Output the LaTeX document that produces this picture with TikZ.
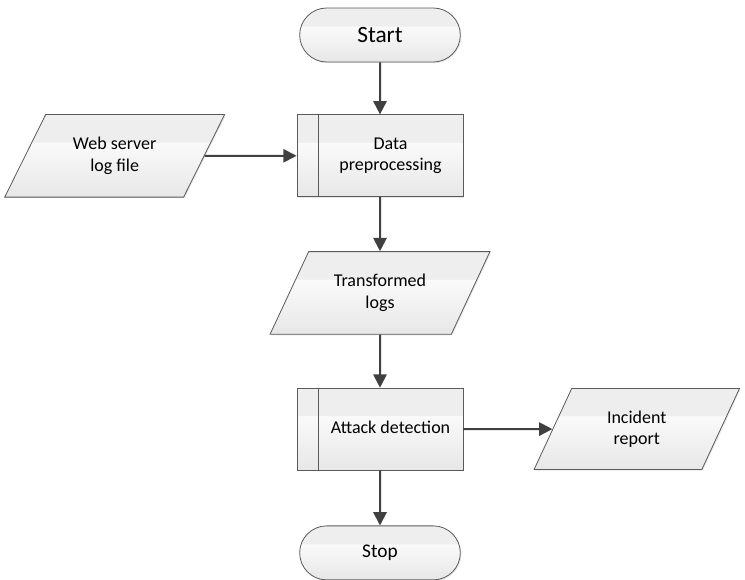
\documentclass[tikz,border=0pt]{standalone}
\usepackage{fontspec}
\setmainfont{Carlito}
\usetikzlibrary{arrows.meta, positioning, shapes.geometric, shapes.misc, shadows}

\definecolor{vband}{HTML}{EEEEEE}
\definecolor{vbot}{HTML}{E7E7E7}
\definecolor{vtop}{HTML}{FAFAFA}
\definecolor{edge}{HTML}{5A5A5A}
\definecolor{wire}{HTML}{404040}
% glossy fill: light band on top, white fading to grey below
\pgfdeclareverticalshading{glossy}{100bp}{color(0bp)=(vbot); color(25bp)=(vbot);
  color(58bp)=(vtop); color(58.5bp)=(vband); color(75bp)=(vband); color(100bp)=(vband)}

\newcommand{\proctext}[1]{\hspace*{15.75pt}\begin{tabular}{@{}c@{}}#1\end{tabular}}

\tikzset{
  base/.style={draw=edge, line width=0.6pt, shading=glossy, align=center,
               font=\fontsize{13.5}{16}\selectfont, text=black, inner sep=2pt,
               drop shadow={shadow xshift=0.8pt, shadow yshift=-0.8pt, fill=black!18}},
  term/.style={base, rounded rectangle, minimum width=124.5pt, minimum height=40.5pt},
  proc/.style={base, rectangle, minimum width=124.5pt, minimum height=61.5pt,
               path picture={\draw[edge, line width=0.6pt]
                 ([xshift=15.75pt]path picture bounding box.north west) --
                 ([xshift=15.75pt]path picture bounding box.south west);}},
  io/.style={base, trapezium, trapezium left angle=58, trapezium right angle=122,
             trapezium stretches=true, minimum width=165pt, minimum height=62pt},
  arr/.style={-{Triangle[length=10pt, width=10pt]}, line width=1.5pt, draw=wire},
}

\begin{document}
\begin{tikzpicture}
\useasboundingbox (0,0) rectangle (558.75pt,-434.25pt);

\node[term, font=\fontsize{17.5}{20}\selectfont] (start) at (285pt,-26.25pt) {Start};
\node[proc, below=39pt of start] (prep) {\proctext{Data\\preprocessing}};
\node[io, left=69pt of prep] (weblog) {Web server\\log file};
\node[io, below=40.5pt of prep] (logs) {Transformed\\logs};
\node[proc, below=39.75pt of logs] (detect) {\proctext{Attack detection}};
\node[io, right=66.75pt of detect, trapezium left angle=66, trapezium right angle=114,
      minimum width=154.5pt, minimum height=60.75pt] (report) {Incident\\report};
\node[term, below=41.25pt of detect, font=\fontsize{14.5}{17}\selectfont] (stop) {Stop};

\draw[arr] (start) -- (prep);
\draw[arr] (weblog) -- (prep);
\draw[arr] (prep) -- (logs);
\draw[arr] (logs) -- (detect);
\draw[arr] (detect) -- (report);
\draw[arr] (detect) -- (stop);
\end{tikzpicture}
\end{document}
